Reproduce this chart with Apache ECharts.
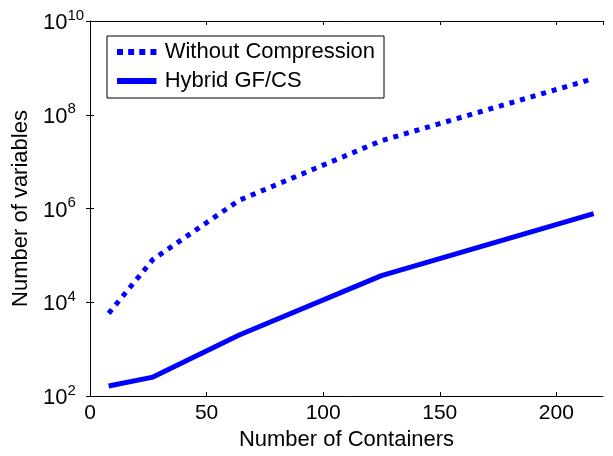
<!DOCTYPE html>
<html>
<head>
<meta charset="utf-8">
<script src="https://cdn.jsdelivr.net/npm/echarts@6/dist/echarts.min.js"></script>
<style>
  html, body { margin: 0; padding: 0; background: #fff; }
  #chart { width: 613px; height: 456px; }
</style>
</head>
<body>
<div id="chart"></div>
<script>
// number of containers (cubes)
var containers = [8, 27, 64, 125, 216];
var withoutCompression = [5800, 82000, 1500000, 28000000, 590000000];
var hybridGFCS = [163, 253, 2000, 37000, 780000];
var seriesNames = ["Without Compression", "Hybrid GF/CS"];

var myChart = echarts.init(document.getElementById("chart"));
var font = "Liberation Sans, Arial, sans-serif";

function pairs(xs, ys) {
  return xs.map(function (x, i) { return [x, ys[i]]; });
}

function expLabel(value) {
  var e = Math.round(Math.log10(value));
  return "{b|10}{e|" + e + "}";
}

// legend icons: dotted squares and a solid bar
var dottedIcon = "path://M0,0H7V7H0Z M13,0H20V7H13Z M26,0H33V7H26Z M39,0H46V7H39Z";
var solidIcon = "path://M0,0H46V7H0Z";

var xCommon = {
  type: "value",
  min: 0,
  max: 220,
  interval: 50,
  axisLine: { show: true, lineStyle: { color: "#000", width: 1 } },
  axisTick: { show: true, inside: true, length: 4, lineStyle: { color: "#000" } },
  splitLine: { show: false },
};
var yCommon = {
  type: "log",
  logBase: 10,
  min: 100,
  max: 1e10,
  interval: 2,
  axisLine: { show: true, lineStyle: { color: "#000", width: 1 } },
  axisTick: { show: true, inside: true, length: 4, lineStyle: { color: "#000" } },
  splitLine: { show: false },
  minorTick: { show: false },
};

var option = {
  backgroundColor: "#fff",
  animation: false,
  grid: { left: 90, right: 10, top: 21, bottom: 60 },
  legend: {
    data: [
      { name: seriesNames[0], icon: dottedIcon },
      { name: seriesNames[1], icon: solidIcon },
    ],
    orient: "vertical",
    left: 107,
    top: 36,
    padding: [5, 9, 6, 10],
    itemWidth: 46,
    itemHeight: 6,
    itemGap: 7,
    borderColor: "#000",
    borderWidth: 1,
    backgroundColor: "#fff",
    itemStyle: { color: "#0000ff" },
    textStyle: { fontFamily: font, fontSize: 22, color: "#000", lineHeight: 22 },
  },
  xAxis: [
    Object.assign({}, xCommon, {
      position: "bottom",
      name: "Number of Containers",
      nameLocation: "middle",
      nameGap: 30,
      nameTextStyle: { fontFamily: font, fontSize: 22, color: "#000" },
      axisLabel: {
        margin: 7,
        fontFamily: font,
        fontSize: 21,
        color: "#000",
        showMaxLabel: false,
      },
    }),
    Object.assign({}, xCommon, {
      position: "top",
      axisLabel: { show: false },
    }),
  ],
  yAxis: [
    Object.assign({}, yCommon, {
      position: "left",
      name: "Number of variables",
      nameLocation: "middle",
      nameGap: 56,
      nameTextStyle: { fontFamily: font, fontSize: 22, color: "#000" },
      axisLabel: {
        align: "left",
        margin: 47,
        formatter: expLabel,
        rich: {
          b: { fontFamily: font, fontSize: 22, color: "#000", lineHeight: 26, verticalAlign: "bottom", padding: [8, 0, 0, 0] },
          e: { fontFamily: font, fontSize: 15, color: "#000", lineHeight: 26, verticalAlign: "top", padding: [0, 0, 6, 0] },
        },
      },
    }),
    Object.assign({}, yCommon, {
      position: "right",
      axisLabel: { show: false },
    }),
  ],
  series: [
    {
      name: seriesNames[0],
      type: "line",
      data: pairs(containers, withoutCompression),
      symbol: "none",
      color: "#0000ff",
      lineStyle: { color: "#0000ff", width: 5, type: [5, 6], cap: "butt" },
    },
    {
      name: seriesNames[1],
      type: "line",
      data: pairs(containers, hybridGFCS),
      symbol: "none",
      color: "#0000ff",
      lineStyle: { color: "#0000ff", width: 5, type: "solid" },
    },
  ],
};

myChart.setOption(option);
</script>
</body>
</html>
